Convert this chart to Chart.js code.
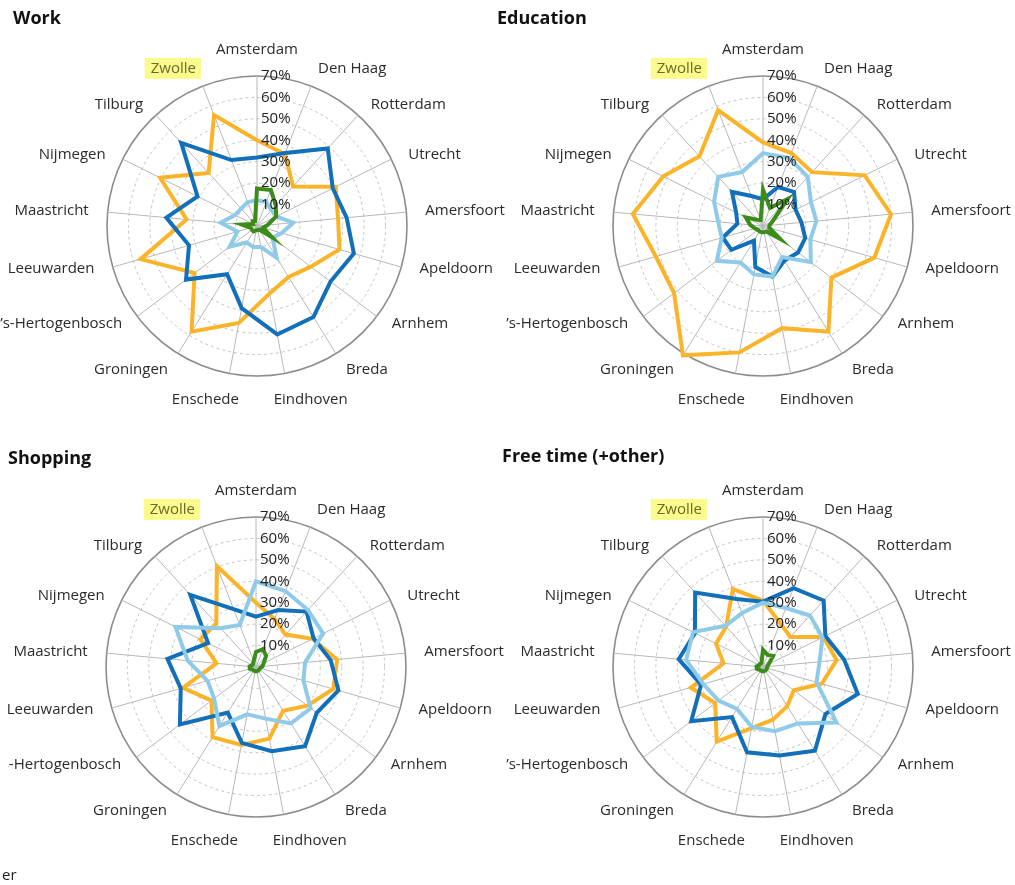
<!DOCTYPE html>
<html>
<head>
<meta charset="utf-8">
<script src="https://cdn.jsdelivr.net/npm/chart.js@4.4.1/dist/chart.umd.min.js"></script>
<style>
  body { margin: 0; background: #fff; width: 1015px; height: 885px; overflow: hidden; position: relative; font-family: "Open Sans", sans-serif; }
  canvas { position: absolute; }
  .title { position: absolute; font-weight: bold; font-size: 18px; color: #111; line-height: 1; z-index: 2; }
  .cut { position: absolute; font-size: 15px; color: #222; line-height: 1; }
</style>
</head>
<body>
<canvas id="work" width="527" height="442" style="left:-20px; top:0;"></canvas>
<canvas id="education" width="525" height="442" style="left:490px; top:0;"></canvas>
<canvas id="shopping" width="499" height="443" style="left:8px; top:442px;"></canvas>
<canvas id="freetime" width="525" height="443" style="left:490px; top:442px;"></canvas>

<div class="title" style="left:13px; top:8px;">Work</div>
<div class="title" style="left:497px; top:8px;">Education</div>
<div class="title" style="left:8px; top:448px;">Shopping</div>
<div class="title" style="left:502px; top:446px;">Free time (+other)</div>
<div class="cut" style="left:2px; top:867px;">er</div>

<script>
const cities = ['Amsterdam', 'Den Haag', 'Rotterdam', 'Utrecht', 'Amersfoort', 'Apeldoorn', 'Arnhem',
    'Breda', 'Eindhoven', 'Enschede', 'Groningen', '\u2019s-Hertogenbosch', 'Leeuwarden', 'Maastricht',
    'Nijmegen', 'Tilburg', 'Zwolle'];
const tickValues = [10, 20, 30, 40, 50, 60, 70];

// Work
const workDark   = [32, 36.5, 49, 39.5, 42, 47, 43, 50, 51.5, 39, 26.5, 41.5, 33, 42.5, 31, 52.5, 33];
const workOrange = [40, 36, 25, 41, 38, 40, 31.5, 28, 32, 46, 58, 36.5, 56.5, 33, 50.5, 33.5, 55.5];
const workLight  = [12, 12, 10, 10, 17, 12, 9, 17.5, 10, 10, 9, 16, 9.5, 17, 11.5, 11, 12];
const workGreen  = [17.5, 18, 13, 10, 5, 3, 9, 2, 2, 2, 3, 3, 3, 7, 2, 3, 2.5];

// Education
const eduDark   = [12.5, 19.5, 21.5, 17, 18, 20.5, 20.5, 19, 24, 19.5, 8, 18.5, 19.5, 12, 14, 21.5, 15];
const eduOrange = [39, 36.5, 34, 53, 60, 54, 40, 58, 48.5, 60, 71, 52, 52, 61, 52, 44, 58];
const eduLight  = [34, 34, 31, 25, 25, 23, 28, 17, 24, 23, 20, 27, 20, 21, 25.5, 31, 27];
const eduGreen  = [17, 9, 17, 5, 3, 3, 10, 3, 3, 3, 3, 3, 4, 6, 9, 4, 3];

// Shopping
const shopDark   = [23.5, 28.5, 35, 30, 35, 40, 35.5, 43.5, 40, 36, 25, 44.5, 36.5, 41.5, 25, 45.5, 29];
const shopOrange = [30, 24, 20.5, 29.5, 38, 37.5, 30, 24, 34, 37, 38.5, 26, 35.5, 18.5, 29, 27.5, 50.5];
const shopLight  = [40, 38, 36, 35, 23, 23, 32, 31, 24.5, 22.5, 32.5, 24.5, 23.5, 32, 42, 24.5, 21];
const shopGreen  = [7, 9, 7, 4, 3, 2, 2, 2, 2, 2, 2, 2, 3, 3, 2, 2, 3];

// Free time (+other)
const freeDark   = [30.5, 39.5, 42, 32.5, 38, 46, 36.5, 46, 42, 40.5, 27.5, 42, 30, 39.5, 35.5, 47, 34];
const freeOrange = [31, 22, 19, 31.5, 34.5, 28.5, 18, 21.5, 25, 29, 41, 28, 35, 18.5, 24.5, 25.5, 39];
const freeLight  = [30, 29.5, 32.5, 31, 26.5, 26, 43, 31, 30.5, 28.5, 23, 26, 29, 36, 36.5, 26, 27];
const freeGreen  = [8, 6, 7, 3, 2, 2, 2, 2, 2, 2, 2, 2, 3, 3, 2, 2, 2];

const DARK = '#1170b9', ORANGE = '#fbb42a', LIGHT = '#8fcbe8', GREEN = '#3c8c1c';

Chart.defaults.font.family = '"Open Sans", sans-serif';

// draws the city names and the % ticks (ticks sit right of the vertical axis)
const labelPlugin = {
    id: 'cityLabels',
    afterDatasetsDraw(chart) {
        const r = chart.scales.r;
        const ctx = chart.ctx;
        ctx.save();
        ctx.font = '15px "Open Sans", sans-serif';
        ctx.fillStyle = '#222';
        ctx.textAlign = 'left';
        ctx.textBaseline = 'middle';
        tickValues.forEach(v => {
            ctx.fillText(v + '%', r.xCenter + 4, r.yCenter - r.getDistanceFromCenterForValue(v));
        });

        ctx.textAlign = 'center';
        chart.data.labels.forEach((name, i) => {
            const p = r.getPointPosition(i, r.drawingArea + 19);
            const sinT = Math.cos(p.angle), cosT = -Math.sin(p.angle);
            const w = ctx.measureText(name).width, h = 15;
            const sx = Math.max(-1, Math.min(1, sinT / 0.3));
            const sy = Math.abs(cosT) > 0.95 ? -Math.sign(cosT) : 0;
            const x = p.x + sx * w / 2;
            // diagonal side labels are pulled a bit toward the horizontal
            let nudge = 0;
            if (cosT > 0.3 && cosT < 0.8) nudge = 4;
            else if (cosT < -0.2 && cosT > -0.7) nudge = -4;
            const y = p.y + sy * h / 2 + nudge;
            if (name === 'Zwolle') {
                ctx.fillStyle = '#fbfa8c';
                ctx.fillRect(x - w / 2 - 6, y - 10.5, w + 11, 21);
                ctx.fillStyle = '#6b6a2b';
            } else {
                ctx.fillStyle = '#2b2b2b';
            }
            ctx.fillText(name, x, y);
        });
        ctx.restore();
    }
};

function makeRadar(id, cx, cy, dark, orange, light, green) {
    const canvas = document.getElementById(id);
    const W = canvas.width, H = canvas.height;
    const line = (data, color) => ({
        data: data,
        borderColor: color,
        backgroundColor: color,
        borderWidth: 4,
        pointRadius: 0,
        fill: false,
        tension: 0,
        clip: false
    });
    return new Chart(canvas.getContext('2d'), {
        type: 'radar',
        data: {
            labels: cities,
            datasets: [line(green, GREEN), line(light, LIGHT), line(dark, DARK), line(orange, ORANGE)]
        },
        options: {
            responsive: false,
            animation: false,
            layout: { padding: { left: cx - 150, top: cy - 150, right: W - cx - 150, bottom: H - cy - 150 } },
            plugins: { legend: { display: false }, tooltip: { enabled: false } },
            scales: {
                r: {
                    min: 0,
                    max: 70,
                    ticks: { display: false, stepSize: 10 },
                    pointLabels: { display: false },
                    angleLines: { color: '#b8b8b8', lineWidth: 1 },
                    grid: {
                        circular: true,
                        color: c => c.index === 7 ? '#8c8c8c' : '#c4c4c4',
                        lineWidth: c => c.index === 7 ? 1.6 : 1
                    },
                    border: { dash: c => c.index === 7 ? [] : [3, 3] }
                }
            }
        },
        plugins: [labelPlugin]
    });
}

// centres in canvas coordinates (canvas offsets: -20, 490, 8, 490)
makeRadar('work', 277, 226, workDark, workOrange, workLight, workGreen);
makeRadar('education', 273, 226, eduDark, eduOrange, eduLight, eduGreen);
makeRadar('shopping', 248, 225, shopDark, shopOrange, shopLight, shopGreen);
makeRadar('freetime', 273, 225, freeDark, freeOrange, freeLight, freeGreen);
</script>
</body>
</html>
